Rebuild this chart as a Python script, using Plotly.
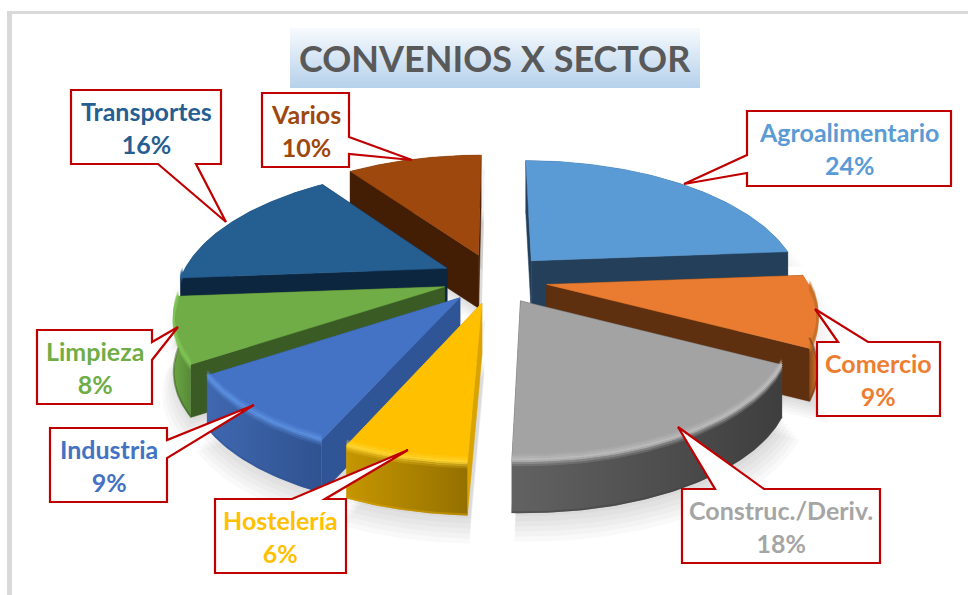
import numpy as np
import plotly.graph_objects as go

# --- data -------------------------------------------------------------
categories = ["Agroalimentario", "Comercio", "Construc./Deriv.", "Hostelería",
              "Industria", "Limpieza", "Transportes", "Varios"]
values = [24, 9, 18, 6, 9, 8, 16, 10]
title_text = "CONVENIOS X SECTOR"

top_colors = ["#5B9BD5", "#E97C30", "#A3A3A3", "#FFC000", "#4472C4", "#70AD47", "#255E91", "#9E480E"]
text_colors = ["#5B9BD5", "#ED7D31", "#A5A5A5", "#FFC000", "#4472C4", "#70AD47", "#255E91", "#9E480E"]
side_colors = ["#243F5A", "#5F300F", "#444444", "#D9A300", "#2F5597", "#3A5C24", "#0D2640", "#431E05"]
rim_colors = ["#5B9BD5", "#C97028", "#BDBDBD", "#FFD633", "#5C90E0", "#80C455", "#255E91", "#9E480E"]
wall_left = ["#243F5A", "#5F300F", "#626262", "#C69600", "#4068B0", "#6BA544", "#0D2640", "#431E05"]
wall_right = ["#243F5A", "#D07028", "#3E3E3E", "#947000", "#2F5290", "#578A37", "#0D2640", "#431E05"]
draw_order = [7, 0, 6, 1, 5, 4, 2, 3]

# callout geometry: box x0, x1, y0, y1, wedge base a, wedge base b, tip x, tip y, side
callouts = [
    (747, 951, 111, 186, 155, 173, 684, 184, "left"),
    (817, 940, 342, 416, 838, 868, 815, 309, "top"),
    (682, 880, 489, 563, 715, 764, 678, 427, "top"),
    (215, 346, 499, 573, 292, 325, 408, 450, "top"),
    (50, 167, 428, 502, 440, 458, 254, 405, "right"),
    (37, 152, 330, 404, 342, 360, 178, 327, "right"),
    (71, 221, 90, 164, 158, 196, 226, 222, "bottom"),
    (262, 349, 93, 167, 137, 154, 412, 160, "right"),
]

# --- projection --------------------------------------------------------
CX, CY, EX, EY, RX, RY, PERSP, T, ROT = 495, 279, 53, 25, 262, 123, 0.228, 53, -1.5


def proj(a_deg, mid_deg, f=1.0, dz=0.0):
    a0 = np.radians(np.asarray(a_deg))
    a = a0 + np.radians(ROT) * (1 - np.cos(a0)) / 2
    m = np.radians(mid_deg)
    s, c = np.sin(a) * f, np.cos(a) * f
    d = 1 + PERSP * c
    ox = EX * np.sin(m) * (1 - 0.15 * c)
    return CX + ox + RX * s / d, CY - EY * np.cos(m) - RY * c / d + dz


fig = go.Figure()


def poly(x, y, color=None, grad=None):
    kw = dict(x=list(x), y=list(y), mode="lines", fill="toself", hoverinfo="skip", showlegend=False)
    if grad:
        kw["fillgradient"] = grad
        kw["line"] = dict(width=0)
    else:
        kw["fillcolor"] = color
        kw["line"] = dict(width=0.5, color=color) if not color.startswith("rgba") else dict(width=0)
    fig.add_trace(go.Scatter(**kw))


edges = np.concatenate([[0], np.cumsum(values)]) * 3.6
mids = (edges[:-1] + edges[1:]) / 2

# soft shadow
for grow, extra in [(1.05, 18), (1.04, 15), (1.03, 12), (1.02, 9), (1.01, 6), (1.0, 3)]:
    for i in range(len(values)):
        ang = np.linspace(edges[i], edges[i + 1], 50)
        x0, y0 = proj(0, mids[i], 0)
        xa, ya = proj(ang, mids[i], grow, T + extra)
        poly(np.r_[x0 + 3, xa + 3, x0 + 3], np.r_[y0 + T + extra, ya, y0 + T + extra], "rgba(0,0,0,0.022)")
        xb, yb = proj(ang, mids[i], grow)
        poly(np.r_[x0 + 4, xb + 4, x0 + 4], np.r_[y0 + 15, yb + 15, y0 + 15], "rgba(0,0,0,0.006)")

# slices, back to front
for i in draw_order:
    a1, a2, m = edges[i], edges[i + 1], mids[i]
    ang = np.linspace(a1, a2, 80)
    ax, ay = proj(0, m, 0)
    # radial walls
    for e in (a1, a2):
        ex, ey = proj(e, m)
        poly([ax, ex, ex, ax, ax], [ay, ey, ey + T, ay + T, ay], side_colors[i])
    # outer wall
    tx, ty = proj(ang, m)
    poly(np.r_[tx, tx[::-1], tx[0]], np.r_[ty, ty[::-1] + T, ty[0]],
         grad=dict(type="horizontal", colorscale=[[0, wall_left[i]], [1, wall_right[i]]]))
    # top face
    poly(np.r_[ax, tx, ax], np.r_[ay, ty, ay], top_colors[i])
    # bevel along the front of the rim
    front = np.cos(np.radians(ang)) < -0.02
    if front.sum() > 1:
        xs, ys = tx[front], ty[front]
        for dz, w, op in [(-5, 2, .25), (-3, 2, .55), (-1, 2, .9), (1, 2, .8), (3, 2, .45), (5, 2, .2)]:
            fig.add_trace(go.Scatter(x=xs, y=ys + dz, mode="lines", hoverinfo="skip", showlegend=False,
                                     opacity=op, line=dict(color=rim_colors[i], width=w)))
        # dark foot of the outer wall
        fig.add_trace(go.Scatter(x=xs, y=ys + T - 1, mode="lines", hoverinfo="skip",
                                 showlegend=False, opacity=.5, line=dict(color=side_colors[i], width=2)))

# title box with gradient
fig.add_trace(go.Scatter(x=[290, 700, 700, 290, 290], y=[28, 28, 88, 88, 28], mode="lines", fill="toself",
                         hoverinfo="skip", showlegend=False, line=dict(width=0),
                         fillgradient=dict(type="vertical", start=28, stop=88,
                                           colorscale=[[0, "#F7FAFD"], [1, "#B5D1EB"]])))

# callouts
shapes = [
    dict(type="rect", x0=7, x1=12, y0=11, y1=595, fillcolor="#D9D9D9", line_width=0, layer="below"),
    dict(type="rect", x0=7, x1=968, y0=11, y1=14, fillcolor="#D9D9D9", line_width=0, layer="below"),
]
annotations = [dict(x=495, y=58, text=f"<b>{title_text}</b>", showarrow=False,
                    font=dict(family="Lato", size=36, color="#595959"), xanchor="center", yanchor="middle")]
for i, (x0, x1, y0, y1, p, q, tx_, ty_, side) in enumerate(callouts):
    if side == "top":
        pts = [(x0, y0), (p, y0), (tx_, ty_), (q, y0), (x1, y0), (x1, y1), (x0, y1)]
    elif side == "bottom":
        pts = [(x0, y0), (x1, y0), (x1, y1), (q, y1), (tx_, ty_), (p, y1), (x0, y1)]
    elif side == "right":
        pts = [(x0, y0), (x1, y0), (x1, p), (tx_, ty_), (x1, q), (x1, y1), (x0, y1)]
    else:
        pts = [(x0, y0), (x1, y0), (x1, y1), (x0, y1), (x0, q), (tx_, ty_), (x0, p)]
    path = "M " + " L ".join(f"{a} {b}" for a, b in pts) + " Z"
    shapes.append(dict(type="path", path=path, fillcolor="white", line=dict(color="#C00000", width=2.2), layer="above"))
    annotations.append(dict(x=(x0 + x1) / 2, y=(y0 + y1) / 2, showarrow=False,
                            text=f"<b>{categories[i]}<br>{values[i]}%</b>",
                            font=dict(family="Lato", size=25, color=text_colors[i]),
                            xanchor="center", yanchor="middle", align="center"))

fig.update_layout(
    width=968, height=595, margin=dict(l=0, r=0, t=0, b=0),
    paper_bgcolor="white", plot_bgcolor="white", showlegend=False,
    xaxis=dict(range=[0, 968], visible=False, fixedrange=True),
    yaxis=dict(range=[595, 0], visible=False, fixedrange=True),
    shapes=shapes, annotations=annotations,
)
fig.write_html("out.html", post_script="document.body.style.margin='0';document.body.style.overflow='hidden';",
               config=dict(displayModeBar=False))
